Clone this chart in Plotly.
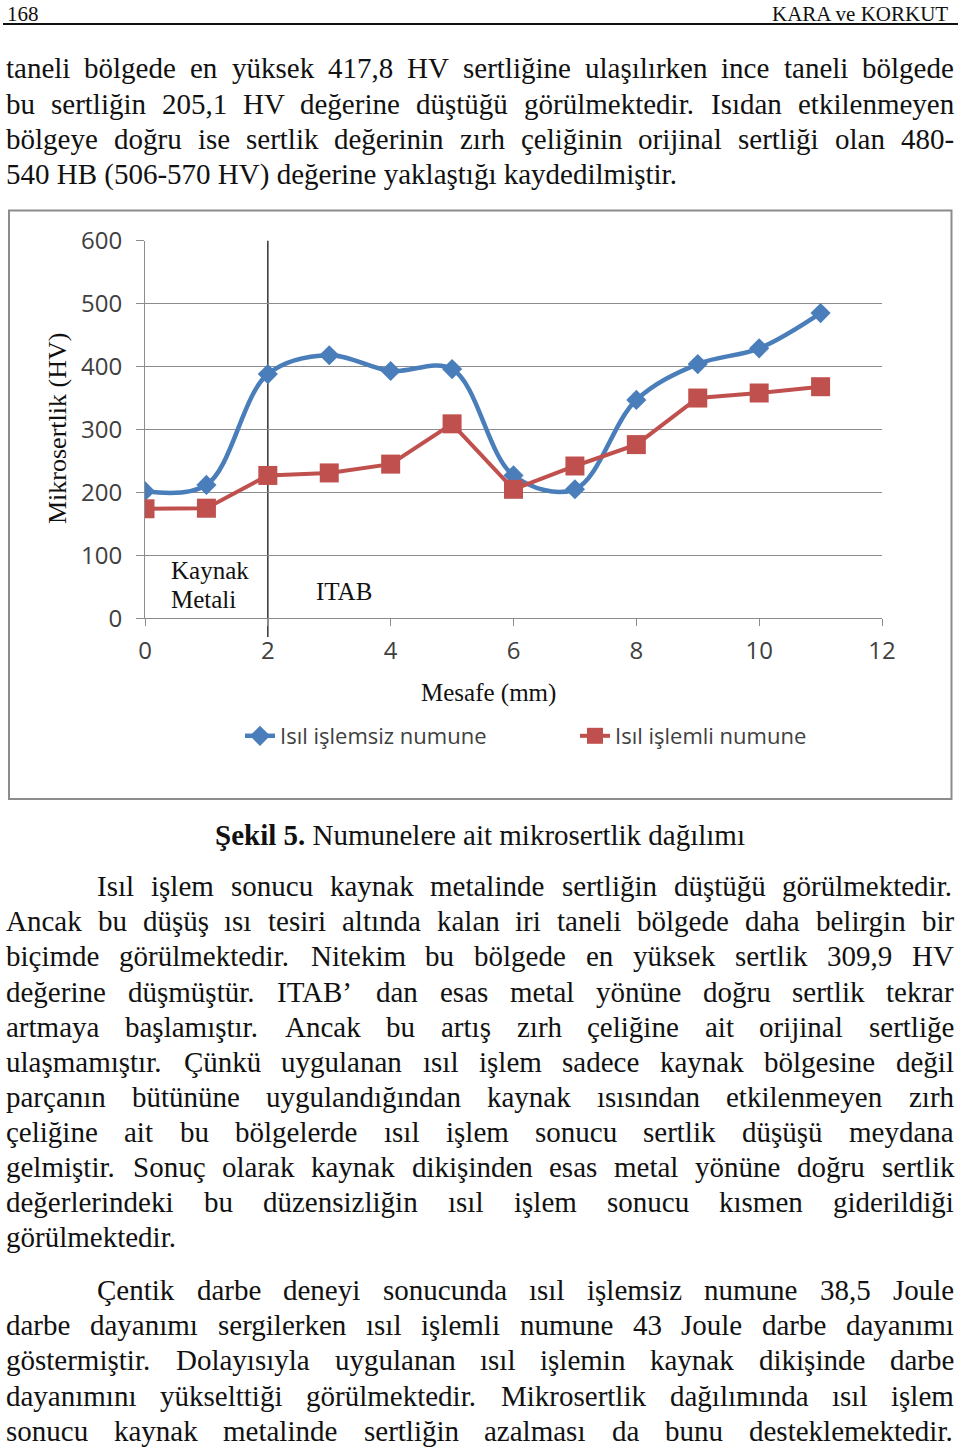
import plotly.graph_objects as go

W, H = 960, 1450

# ---------------- data ----------------
distance_mm = [0, 1, 2, 3, 4, 5, 6, 7, 8, 9, 10, 11]
hv_untreated = [202, 212, 388, 418, 393, 396, 227, 205, 347, 404, 429, 485]
hv_treated = [174, 175, 227, 231, 245, 309, 205, 242, 276, 350, 358, 368]
x_tick_vals = [0, 2, 4, 6, 8, 10, 12]
y_tick_vals = [0, 100, 200, 300, 400, 500, 600]
series_names = ["Isıl işlemsiz numune", "Isıl işlemli numune"]

# ---------------- page text ----------------
top_lines = [
    "taneli bölgede en yüksek 417,8 HV sertliğine ulaşılırken ince taneli bölgede",
    "bu sertliğin 205,1 HV değerine düştüğü görülmektedir. Isıdan etkilenmeyen",
    "bölgeye doğru ise sertlik değerinin zırh çeliğinin orijinal sertliği olan 480-",
    "540 HB (506-570 HV) değerine yaklaştığı kaydedilmiştir.",
]
para2_lines = [
    "Isıl işlem sonucu kaynak metalinde sertliğin düştüğü görülmektedir.",
    "Ancak bu düşüş ısı tesiri altında kalan iri taneli bölgede daha belirgin bir",
    "biçimde görülmektedir. Nitekim bu bölgede en yüksek sertlik 309,9 HV",
    "değerine düşmüştür. ITAB’ dan esas metal yönüne doğru sertlik tekrar",
    "artmaya başlamıştır. Ancak bu artış zırh çeliğine ait orijinal sertliğe",
    "ulaşmamıştır. Çünkü uygulanan ısıl işlem sadece kaynak bölgesine değil",
    "parçanın bütününe uygulandığından kaynak ısısından etkilenmeyen zırh",
    "çeliğine ait bu bölgelerde ısıl işlem sonucu sertlik düşüşü meydana",
    "gelmiştir. Sonuç olarak kaynak dikişinden esas metal yönüne doğru sertlik",
    "değerlerindeki bu düzensizliğin ısıl işlem sonucu kısmen giderildiği",
    "görülmektedir.",
]
para3_lines = [
    "Çentik darbe deneyi sonucunda ısıl işlemsiz numune 38,5 Joule",
    "darbe dayanımı sergilerken ısıl işlemli numune 43 Joule darbe dayanımı",
    "göstermiştir. Dolayısıyla uygulanan ısıl işlemin kaynak dikişinde darbe",
    "dayanımını yükselttiği görülmektedir. Mikrosertlik dağılımında ısıl işlem",
    "sonucu kaynak metalinde sertliğin azalması da bunu desteklemektedir.",
]

SERIF = "Liberation Serif, Times New Roman, serif"
SANS = "Open Sans, Lato, sans-serif"
BODY = 29

# Times New Roman advance widths (per 1000 em)
_w = {}
for c, v in zip("abcdefghijklmnopqrstuvwxyz",
                [444, 500, 444, 500, 444, 333, 500, 500, 278, 278, 500, 278, 778,
                 500, 500, 500, 500, 333, 389, 278, 500, 500, 722, 500, 500, 444]):
    _w[c] = v
for c, v in zip("ABCDEFGHIJKLMNOPQRSTUVWXYZ",
                [722, 667, 667, 722, 611, 556, 722, 722, 333, 389, 722, 611, 889,
                 722, 722, 556, 722, 667, 556, 611, 722, 722, 944, 722, 722, 611]):
    _w[c] = v
for c in "0123456789":
    _w[c] = 500
_w.update({" ": 250, ".": 250, ",": 250, "-": 333, "(": 333, ")": 333, "’": 333,
           ":": 278, "ı": 278, "ğ": 500, "ş": 389, "ç": 444, "ö": 500, "ü": 500,
           "İ": 333, "Ş": 556, "Ç": 667, "Ö": 722, "Ü": 722, "Ğ": 722})


def tw(s, size):
    return sum(_w.get(ch, 500) for ch in s) / 1000.0 * size


def px(xp):
    return xp / W


def py(yp):
    return (H - yp) / H


annotations = []


def text_line(s, baseline, left, right, justify, size=BODY):
    yc = baseline - 0.3375 * size
    common = dict(xref="paper", yref="paper", showarrow=False, xanchor="left",
                  yanchor="middle", borderpad=0, borderwidth=0,
                  font=dict(family=SERIF, size=size, color="#111111"))
    if not justify:
        annotations.append(dict(text=s, x=px(left), y=py(yc), **common))
        return
    words = s.split(" ")
    widths = [tw(w, size) for w in words]
    gap = (right - left - sum(widths)) / (len(words) - 1)
    x = left
    for w, wd in zip(words, widths):
        annotations.append(dict(text=w, x=px(x), y=py(yc), **common))
        x += wd + gap


LEFT, RIGHT, INDENT = 6, 954, 97

for i, s in enumerate(top_lines):
    text_line(s, 78 + 35.5 * i, LEFT, RIGHT, i < len(top_lines) - 1)
for i, s in enumerate(para2_lines):
    text_line(s, 896 + 35.1 * i, INDENT if i == 0 else LEFT, RIGHT, i < len(para2_lines) - 1)
for i, s in enumerate(para3_lines):
    text_line(s, 1300 + 35.1 * i, INDENT if i == 0 else LEFT, RIGHT, True)

# header
hdr_font = dict(family=SERIF, size=21, color="#111111")
annotations.append(dict(text="168", x=px(6), y=py(0.5), xref="paper", yref="paper",
                        xanchor="left", yanchor="top", showarrow=False, borderpad=0,
                        font=hdr_font))
annotations.append(dict(text="KARA ve KORKUT", x=px(949), y=py(0.5), xref="paper",
                        yref="paper", xanchor="right", yanchor="top", showarrow=False,
                        borderpad=0, font=hdr_font))
# caption
annotations.append(dict(text="<b>Şekil 5.</b> Numunelere ait mikrosertlik dağılımı", x=px(480),
                        y=py(845 - 0.3375 * BODY), xref="paper", yref="paper", xanchor="center",
                        yanchor="middle", showarrow=False, borderpad=0,
                        font=dict(family=SERIF, size=BODY, color="#111111")))

# chart annotations
chart_font = dict(family=SERIF, size=25, color="#111111")
for s, xl, bl in [("Kaynak", 170, 578.5), ("Metali", 170, 607.5), ("ITAB", 315, 599.5)]:
    annotations.append(dict(text=s, x=px(xl), y=py(bl - 0.3375 * 25), xref="paper", yref="paper",
                            xanchor="left", yanchor="middle", showarrow=False, borderpad=0,
                            font=chart_font))
annotations.append(dict(text="Mesafe (mm)", x=px(488), y=py(701.5 - 0.3375 * 25), xref="paper",
                        yref="paper", xanchor="center", yanchor="middle", showarrow=False,
                        borderpad=0, font=chart_font))
annotations.append(dict(text="Mikrosertlik (HV)", x=px(57), y=py(429), xref="paper", yref="paper",
                        xanchor="center", yanchor="middle", showarrow=False, borderpad=0,
                        textangle=-90, font=dict(family=SERIF, size=26, color="#111111")))

# ---------------- figure ----------------
fig = go.Figure()
fig.add_trace(go.Scatter(
    x=distance_mm, y=hv_untreated, name=series_names[0], mode="lines+markers",
    line=dict(color="#4A7EBB", width=4.5, shape="spline", smoothing=1.0),
    marker=dict(symbol="diamond", size=15.5, color="#4A7EBB", line=dict(width=0)),
))
fig.add_trace(go.Scatter(
    x=distance_mm, y=hv_treated, name=series_names[1], mode="lines+markers",
    line=dict(color="#C0504D", width=4),
    marker=dict(symbol="square", size=19, color="#C0504D", line=dict(width=0)),
))

x0p, x1p = 145, 882
y600, y0 = 240.7, 618.3

shapes = [
    dict(type="line", xref="paper", yref="paper", x0=px(3), x1=px(958), y0=py(24), y1=py(24),
         line=dict(color="#111111", width=2)),
    dict(type="rect", xref="paper", yref="paper", x0=px(9), x1=px(951.5), y0=py(799), y1=py(210.5),
         line=dict(color="#8C8C8C", width=2), layer="below"),
    dict(type="line", xref="x", yref="paper", x0=2, x1=2, y0=py(637), y1=py(y600),
         line=dict(color="#333333", width=1.5), layer="below"),
]

tick_font = dict(family=SANS, size=24, color="#404040")

fig.update_layout(
    width=W, height=H, autosize=False,
    margin=dict(l=0, r=0, t=0, b=0, pad=0, autoexpand=False),
    paper_bgcolor="white", plot_bgcolor="white",
    showlegend=True,
    legend=dict(orientation="h", x=px(240), xanchor="left", y=py(736), yanchor="middle",
                font=dict(family=SANS, size=22, color="#404040"),
                entrywidth=290, entrywidthmode="pixels", bgcolor="rgba(0,0,0,0)",
                itemclick=False),
    xaxis=dict(domain=[px(x0p), px(x1p)], range=[0, 12], tickvals=x_tick_vals,
               ticks="outside", ticklen=7, tickcolor="#8C8C8C", tickwidth=1, automargin=False,
               showline=True, linecolor="#8C8C8C", linewidth=1, showgrid=False,
               zeroline=False, tickfont=tick_font, ticklabelstandoff=4),
    yaxis=dict(domain=[py(y0), py(y600)], range=[0, 600], tickvals=y_tick_vals,
               ticks="outside", ticklen=8, tickcolor="#8C8C8C", tickwidth=1, automargin=False,
               showline=True, linecolor="#8C8C8C", linewidth=1, showgrid=True,
               gridcolor="#8C8C8C", gridwidth=1, zeroline=False,
               tickfont=tick_font, ticklabelstandoff=9),
    annotations=annotations,
    shapes=shapes,
)

fig.write_html("out.html")
